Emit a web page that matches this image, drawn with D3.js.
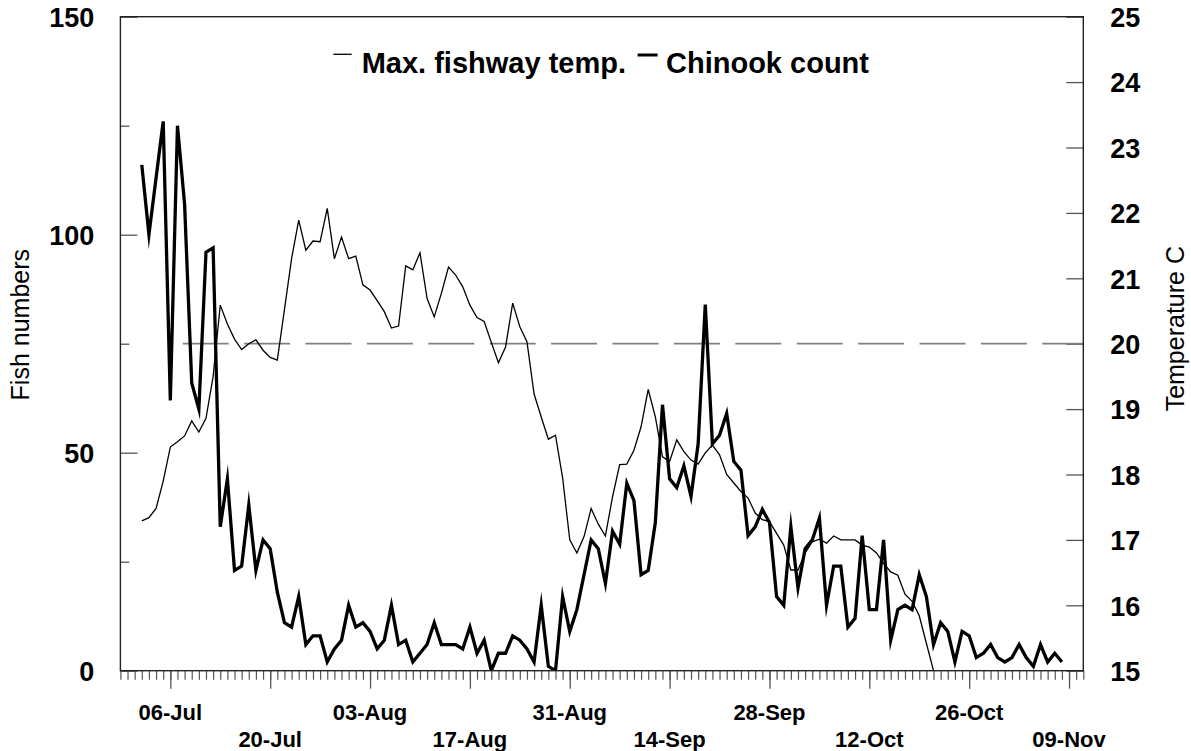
<!DOCTYPE html>
<html>
<head>
<meta charset="utf-8">
<script src="https://cdn.jsdelivr.net/npm/d3@7"></script>
<style>
  html, body { margin: 0; padding: 0; background: #fff; }
  svg { display: block; }
  text { font-family: "Liberation Sans", Arial, Helvetica, sans-serif; fill: #000; }
</style>
</head>
<body>
<svg id="chart" width="1191" height="751"></svg>
<script>
// ---------------- data ----------------
const seriesStart = "2001-07-02";           // first day with data
const axisStart = "2001-06-29";
const axisEnd = "2001-11-11";

// Daily Chinook counts, 02-Jul .. 08-Nov
const chinookCount = [
  116,100,113,126,62,125,107,66,60,96,97,33,44,23,24,38,23,30,28,18,11,10,17,6,8,8,2,5,7,15,
  10,11,9,5,7,15,6,7,2,4,6,11,6,6,6,5,10,4,7,0,4,4,8,7,5,2,15,1,0,17,9,
  14,22,30,28,20,32,29,43,39,22,23,34,61,44,42,47,40,52,84,52,54,59,48,46,31,33,37,34,17,15,
  33,19,28,30,35,15,24,24,10,12,31,14,14,30,7,14,15,14,22,17,6,11,9,2,9,8,3,4,6,3,2,
  3,6,3,1,6,2,4,2
];

// Daily maximum fishway temperature (C), 02-Jul .. 21-Oct
const maxTemp = [
  17.29,17.34,17.48,17.9,18.42,18.5,18.59,18.82,18.65,18.86,19.5,20.59,20.3,20.07,19.91,20.0,20.06,19.9,19.79,19.75,20.52,21.3,21.89,21.43,21.57,21.56,22.07,21.3,21.63,21.3,
  21.34,20.9,20.82,20.66,20.49,20.24,20.27,21.19,21.13,21.39,20.69,20.41,20.77,21.17,21.05,20.87,20.59,20.4,20.34,20.02,19.71,19.95,20.62,20.26,20.03,19.23,18.88,18.54,18.6,17.95,17.0,
  16.8,17.05,17.48,17.24,17.06,17.66,18.15,18.16,18.37,18.73,19.3,18.88,18.27,18.2,18.53,18.35,18.22,18.16,18.33,18.45,18.3,18.0,17.87,17.74,17.64,17.41,17.31,17.28,17.1,16.92,
  16.54,16.54,16.8,16.97,17.01,16.95,17.06,17.0,17.0,17.0,16.92,16.89,16.8,16.64,16.51,16.46,16.17,16.06,15.84,15.42,15.0
];

const thresholdTemp = 20;

const majorTickDates = ["2001-07-06","2001-07-20","2001-08-03","2001-08-17","2001-08-31",
                        "2001-09-14","2001-09-28","2001-10-12","2001-10-26","2001-11-09"];
const majorTickLabels = ["06-Jul","20-Jul","03-Aug","17-Aug","31-Aug","14-Sep","28-Sep","12-Oct","26-Oct","09-Nov"];

const leftTicks = [0, 50, 100, 150];
const leftMinorTicks = [25, 75, 125];
const rightTicks = [15, 16, 17, 18, 19, 20, 21, 22, 23, 24, 25];

const legendLabels = ["Max. fishway temp.", "Chinook count"];
const leftTitle = "Fish numbers";
const rightTitle = "Temperature C";

// ---------------- layout ----------------
const plot = { left: 120.4, right: 1083.3, top: 16.7, bottom: 670.7 };
const parse = d3.utcParse("%Y-%m-%d");
const t0 = parse(seriesStart);

const x = d3.scaleUtc().domain([parse(axisStart), parse(axisEnd)]).range([plot.left, plot.right]);
const yL = d3.scaleLinear().domain([0, 150]).range([plot.bottom, plot.top]);
const yR = d3.scaleLinear().domain([15, 25]).range([plot.bottom, plot.top]);

const fishData = chinookCount.map((v, i) => ({ date: d3.utcDay.offset(t0, i), v }));
const tempData = maxTemp.map((v, i) => ({ date: d3.utcDay.offset(t0, i), v }));

const svg = d3.select("#chart");

svg.append("defs").append("clipPath").attr("id", "clip")
  .append("rect")
  .attr("x", plot.left).attr("y", plot.top)
  .attr("width", plot.right - plot.left).attr("height", plot.bottom - plot.top);

const tickColor = "#555";

// bottom daily minor ticks
const gB = svg.append("g").attr("transform", `translate(0,${plot.bottom})`)
  .call(d3.axisBottom(x).ticks(d3.utcDay.every(1)).tickSize(9).tickFormat(""));
gB.select(".domain").remove();
gB.selectAll("line").attr("stroke", tickColor).attr("stroke-width", 1.2);

// bottom major ticks
const gBM = svg.append("g").attr("transform", `translate(0,${plot.bottom})`)
  .call(d3.axisBottom(x).tickValues(majorTickDates.map(parse)).tickSize(18).tickFormat(""));
gBM.select(".domain").remove();
gBM.selectAll("line").attr("stroke", tickColor).attr("stroke-width", 1.3);

// bottom labels in two staggered rows
svg.append("g").selectAll("text").data(majorTickDates).join("text")
  .attr("x", d => x(parse(d)))
  .attr("y", (d, i) => i % 2 === 0 ? 719.5 : 746.5)
  .attr("text-anchor", "middle")
  .style("font-size", "22px").style("font-weight", "bold")
  .text((d, i) => majorTickLabels[i]);

// left axis
const gL = svg.append("g").attr("transform", `translate(${plot.left},0)`)
  .call(d3.axisLeft(yL).tickValues(leftTicks).tickSizeInner(-17).tickSizeOuter(0).tickPadding(26));
gL.select(".domain").remove();
gL.selectAll("line").attr("stroke", tickColor).attr("stroke-width", 1.3);
gL.selectAll("text").style("font-size", "27px").style("font-weight", "bold")
  .attr("font-family", null).attr("dy", "0.36em");
const gLm = svg.append("g").attr("transform", `translate(${plot.left},0)`)
  .call(d3.axisLeft(yL).tickValues(leftMinorTicks).tickSizeInner(-9).tickSizeOuter(0).tickFormat(""));
gLm.select(".domain").remove();
gLm.selectAll("line").attr("stroke", tickColor).attr("stroke-width", 1.3);

// right axis
const gR = svg.append("g").attr("transform", `translate(${plot.right},0)`)
  .call(d3.axisRight(yR).tickValues(rightTicks).tickSizeInner(-17).tickSizeOuter(0).tickPadding(27));
gR.select(".domain").remove();
gR.selectAll("line").attr("stroke", tickColor).attr("stroke-width", 1.3);
gR.selectAll("text").style("font-size", "27px").style("font-weight", "bold")
  .attr("font-family", null).attr("dy", "0.36em");

// axis titles
svg.append("text")
  .attr("transform", `translate(20,${(plot.top + plot.bottom) / 2 - 19}) rotate(-90)`)
  .attr("text-anchor", "middle").attr("dominant-baseline", "central")
  .style("font-size", "25px")
  .text(leftTitle);
svg.append("text")
  .attr("transform", `translate(1175,${(plot.top + plot.bottom) / 2 - 15}) rotate(-90)`)
  .attr("text-anchor", "middle").attr("dominant-baseline", "central")
  .style("font-size", "25px")
  .text(rightTitle);

// threshold dashed line (20 C)
svg.append("line")
  .attr("x1", plot.left + 46.9).attr("x2", plot.right)
  .attr("y1", yR(thresholdTemp)).attr("y2", yR(thresholdTemp))
  .attr("stroke", "#808080").attr("stroke-width", 1.7)
  .attr("stroke-dasharray", "46 15.4").attr("stroke-dashoffset", 46);

// lines
const lineL = d3.line().x(d => x(d.date)).y(d => yL(d.v));
const lineR = d3.line().x(d => x(d.date)).y(d => yR(d.v));

const gLines = svg.append("g").attr("clip-path", "url(#clip)");
gLines.append("path").datum(tempData)
  .attr("d", lineR).attr("fill", "none").attr("stroke", "#000").attr("stroke-width", 1.3);
gLines.append("path").datum(fishData)
  .attr("d", lineL).attr("fill", "none").attr("stroke", "#000").attr("stroke-width", 3.3)
  .attr("stroke-linejoin", "miter").attr("stroke-miterlimit", 10);

// frame
svg.append("rect")
  .attr("x", plot.left).attr("y", plot.top)
  .attr("width", plot.right - plot.left).attr("height", plot.bottom - plot.top)
  .attr("fill", "none").attr("stroke", "#222").attr("stroke-width", 1.4);

// legend
const leg = svg.append("g");
leg.append("line").attr("x1", 333.3).attr("x2", 351.7).attr("y1", 54.3).attr("y2", 54.3)
  .attr("stroke", "#000").attr("stroke-width", 1.3);
const t1 = leg.append("text").attr("x", 361.7).attr("y", 72.7)
  .style("font-size", "29px").style("font-weight", "bold").text(legendLabels[0]);
const t1end = 361.7 + t1.node().getComputedTextLength();
leg.append("line").attr("x1", t1end + 11.6).attr("x2", t1end + 31.6).attr("y1", 55).attr("y2", 55)
  .attr("stroke", "#000").attr("stroke-width", 3);
leg.append("text").attr("x", t1end + 40).attr("y", 72.7)
  .style("font-size", "29px").style("font-weight", "bold").text(legendLabels[1]);
</script>
</body>
</html>
